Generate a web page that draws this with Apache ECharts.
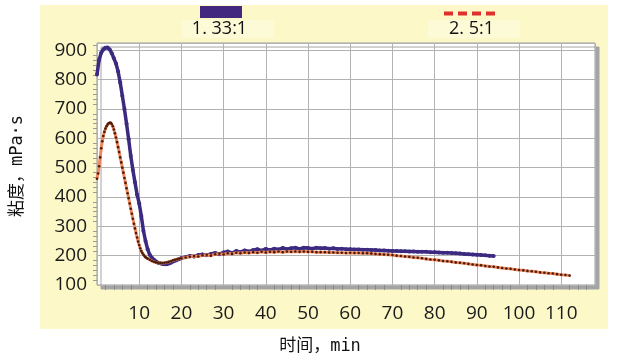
<!DOCTYPE html>
<html><head><meta charset="utf-8">
<script src="https://cdn.jsdelivr.net/npm/echarts@6/dist/echarts.min.js"></script>
<style>html,body{margin:0;padding:0;background:#fff}#c{width:620px;height:358px}</style>
</head><body><div id="c"></div>
<script>
// ---- data ----
const seriesNames = ['1. 33:1', '2. 5:1'];
const xTickLabels = [10,20,30,40,50,60,70,80,90,100,110];
const yTickLabels = [100,200,300,400,500,600,700,800,900];

const purpleTime = [0,0.5,1,1.5,2,2.5,3,3.5,4,4.5,5,5.5,6,6.5,7,7.5,8,8.5,9,9.5,
  10,10.5,11,11.5,12,12.5,13,13.5,14,14.5,15,15.5,16,16.5,17,17.5,18,18.5,19,19.5,
  20,21,22,23,24,25,26,27,28,29,30,31,32,33,34,35,36,37,38,39,
  40,41,42,43,44,45,46,47,48,49,50,51,52,53,54,55,56,57,58,59,
  60,61,62,63,64,65,66,67,68,69,70,71,72,73,74,75,76,77,78,79,
  80,81,82,83,84,85,86,87,88,89,90,91,92,93,94];
const purpleVisc = [818,868,892,903,909,910,903,890,873,855,828,790,745,700,650,597,540,492,450,408,
  378,335,285,250,222,203,193,186,180,176,174,172,171,171,173,176,180,183,186,189,
  192,195,199,197,202,204,201,206,209,205,211,214,209,216,212,218,214,219,222,217,
  223,219,224,221,226,222,225,227,223,227,226,224,227,225,226,224,225,223,224,222,
  222,221,221,220,220,219,219,218,218,217,216,216,215,215,214,214,213,213,213,212,
  212,211,210,210,209,208,207,206,205,204,203,202,201,200,199];

const orangeTime = [0,0.25,0.5,0.75,1,1.25,1.5,1.75,2,2.25,2.5,2.75,3,3.25,3.5,3.75,4,4.25,4.5,4.75,
  5,5.25,5.5,5.75,6,6.25,6.5,6.75,7,7.25,7.5,7.75,8,8.25,8.5,8.75,9,9.25,9.5,9.75,
  10,10.25,10.5,10.75,11,11.25,11.5,11.75,12,
  12.5,13,13.5,14,14.5,15,15.5,16,16.5,17,17.5,18,18.5,19,19.5,
  20,21,22,23,24,25,26,27,28,29,30,31,32,33,34,35,36,37,38,39,
  40,41,42,43,44,45,46,47,48,49,50,51,52,53,54,55,56,57,58,59,
  60,61,62,63,64,65,66,67,68,69,70,71,72,73,74,75,76,77,78,79,
  80,81,82,83,84,85,86,87,88,89,90,91,92,93,94,95,96,97,98,99,
  100,101,102,103,104,105,106,107,108,109,110,111,112];
const orangeVisc = [462,480,505,535,566,590,608,622,633,641,647,651,653,653,649,641,630,617,603,587,
  570,553,535,518,500,483,465,448,430,413,396,378,360,343,326,309,293,277,262,248,
  236,225,216,209,203,199,195,192,190,
  186,182,179,177,176,175,175,176,177,179,181,184,186,188,190,
  191,194,196,199,197,201,203,200,205,207,204,208,206,210,208,211,209,212,210,213,
  211,213,212,214,212,214,213,214,213,214,213,213,212,212,212,211,211,210,210,209,
  210,209,209,208,208,207,206,205,204,203,202,200,199,197,196,194,193,191,189,187,
  186,184,182,181,179,177,176,174,172,170,168,167,165,163,162,160,158,156,155,153,
  151,150,148,147,145,143,142,140,139,137,135,134,132];

// ---- chart ----
const pairs = (t, v) => t.map((x, i) => [x, v[i]]);
const chart = echarts.init(document.getElementById('c'), null, {renderer: 'canvas'});
const txtFont = '"Open Sans", "Liberation Sans", sans-serif';
const nameFont = '"DejaVu Sans Mono", "Noto Sans CJK SC", monospace';

chart.setOption({
  animation: false,
  backgroundColor: '#ffffff',
  grid: {
    left: 97, right: 25, top: 43, bottom: 73,
    show: true, backgroundColor: '#ffffff', borderColor: '#9a9a9a', borderWidth: 1,
    shadowColor: '#a4a4a4', shadowOffsetX: 4, shadowOffsetY: 4, shadowBlur: 0
  },
  xAxis: {
    type: 'value', min: 0, max: 118, interval: 10,
    axisLine: {show: false},
    axisTick: {show: false},
    minorTick: {show: true, splitNumber: 5, length: 5, lineStyle: {color: '#8a8a8a', width: 1}},
    splitLine: {show: true, lineStyle: {color: '#b2b2b2', width: 1}},
    axisLabel: {
      margin: 19, color: '#1a1a1a', fontSize: 19, fontFamily: txtFont,
      formatter: v => xTickLabels.indexOf(v) >= 0 ? String(v) : ''
    }
  },
  yAxis: {
    type: 'value', min: 100, max: 925, interval: 100,
    axisLine: {show: false},
    axisTick: {show: false},
    minorTick: {show: true, splitNumber: 6, length: 4, lineStyle: {color: '#9a9a9a', width: 1}},
    splitLine: {show: true, lineStyle: {color: '#b2b2b2', width: 1}},
    axisLabel: {
      margin: 10, color: '#1a1a1a', fontSize: 19, fontFamily: txtFont,
      formatter: v => yTickLabels.indexOf(v) >= 0 ? String(v) : ''
    }
  },
  series: [
    {
      name: seriesNames[0], type: 'line', data: pairs(purpleTime, purpleVisc),
      symbol: 'circle', symbolSize: 4, showSymbol: true,
      itemStyle: {color: '#3c2a80'},
      lineStyle: {color: '#3c2a80', width: 3.5},
      z: 3
    },
    {
      name: seriesNames[1], type: 'line', data: pairs(orangeTime, orangeVisc),
      symbol: 'circle', symbolSize: 2.6, showSymbol: true,
      itemStyle: {color: '#4a1c0c'},
      lineStyle: {color: '#f0885c', width: 3},
      z: 4
    }
  ],
  graphic: [
    {type: 'rect', z: -100, silent: true, shape: {x: 40, y: 5, width: 568, height: 324}, style: {fill: '#fcf8c8'}},
    {type: 'rect', z: -90, silent: true, shape: {x: 182, y: 20, width: 92, height: 18}, style: {fill: '#fdfad8'}},
    {type: 'rect', z: -90, silent: true, shape: {x: 428, y: 20, width: 92, height: 18}, style: {fill: '#fdfad8'}},
    {type: 'rect', z: 10, shape: {x: 200, y: 6, width: 42, height: 12}, style: {fill: '#42287e'}},
    {type: 'text', z: 10, x: 219.5, y: 29, style: {text: seriesNames[0], fill: '#111', font: '18px ' + txtFont, textAlign: 'center', textVerticalAlign: 'middle'}},
    {type: 'line', z: 10, shape: {x1: 444, y1: 13.5, x2: 496, y2: 13.5}, style: {stroke: '#e0302c', lineWidth: 4, lineDash: [9, 5]}},
    {type: 'text', z: 10, x: 471.5, y: 29, style: {text: seriesNames[1], fill: '#111', font: '18px ' + txtFont, textAlign: 'center', textVerticalAlign: 'middle'}},
    {type: 'text', z: 10, x: 18, y: 166, rotation: Math.PI / 2,
      style: {text: '粘度，mPa·s', fill: '#111', font: '17px ' + nameFont, textAlign: 'center', textVerticalAlign: 'middle'}},
    {type: 'text', z: 10, x: 320, y: 347,
      style: {text: '时间，min', fill: '#111', font: '17px ' + nameFont, textAlign: 'center', textVerticalAlign: 'middle'}}
  ]
});
</script>
</body></html>
